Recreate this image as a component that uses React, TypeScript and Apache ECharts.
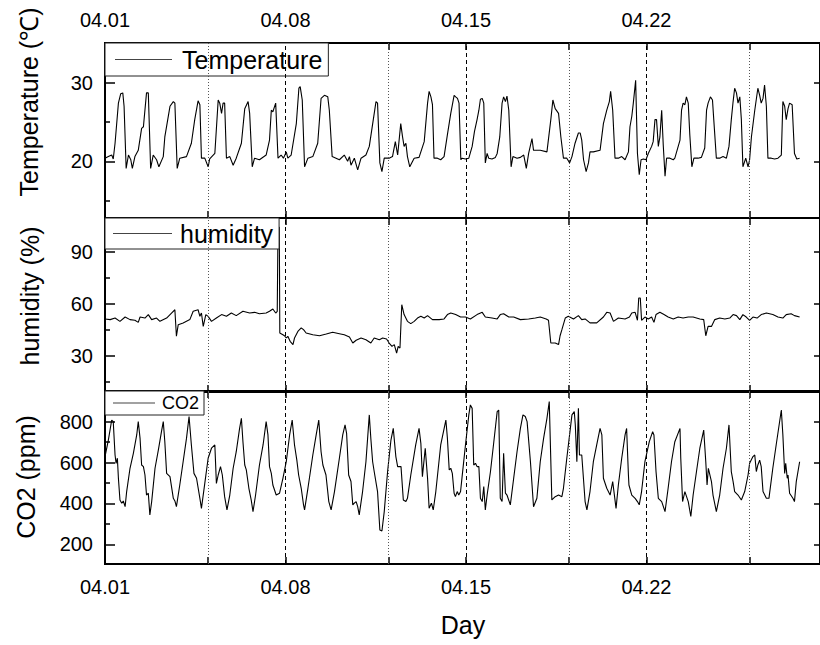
import React, { useEffect, useRef } from 'react';
import * as echarts from 'echarts';

// [day since 04.01, value]
const tempPoints: [number, number][] = [
  [0.0, 20.4], [0.13, 20.6], [0.26, 20.8], [0.32, 20.3], [0.39, 22.3], [0.52, 27.4], [0.61, 28.6], [0.69, 28.7], [0.74, 27.0], [0.82, 19.1],
  [0.91, 20.8], [1.0, 20.2], [1.06, 19.1], [1.16, 20.6], [1.29, 21.4], [1.42, 24.2], [1.49, 24.4], [1.61, 28.7], [1.68, 28.7], [1.77, 19.1],
  [1.87, 20.8], [2.0, 20.2], [2.09, 19.3], [2.26, 20.6], [2.32, 23.1], [2.52, 27.0], [2.65, 27.6], [2.71, 27.4], [2.80, 19.1], [2.90, 20.4],
  [3.16, 20.6], [3.35, 22.3], [3.48, 25.3], [3.61, 27.7], [3.68, 27.2], [3.74, 20.4], [3.87, 20.4], [4.0, 19.3], [4.06, 20.3], [4.26, 21.0],
  [4.39, 27.8], [4.45, 27.4], [4.52, 26.1], [4.58, 27.4], [4.64, 27.4], [4.71, 20.4], [4.84, 20.6], [4.97, 19.5], [5.09, 20.4], [5.29, 22.3],
  [5.42, 26.7], [5.55, 27.6], [5.61, 26.1], [5.71, 19.3], [5.80, 20.4], [5.99, 20.2], [6.25, 20.8], [6.38, 22.7], [6.45, 26.5], [6.51, 26.3],
  [6.62, 27.4], [6.71, 20.4], [6.83, 20.8], [6.92, 20.4], [7.03, 21.2], [7.09, 20.4], [7.22, 20.8], [7.42, 24.8], [7.52, 29.3], [7.57, 29.5],
  [7.65, 27.8], [7.74, 19.3], [7.87, 20.4], [8.06, 20.6], [8.25, 22.3], [8.38, 28.0], [8.51, 28.4], [8.64, 28.2], [8.70, 26.5], [8.81, 20.6],
  [8.96, 20.4], [9.09, 20.2], [9.28, 20.8], [9.41, 20.0], [9.48, 20.6], [9.54, 19.5], [9.67, 20.4], [9.80, 18.9], [9.93, 20.4], [10.12, 20.8],
  [10.25, 21.9], [10.51, 27.6], [10.57, 27.4], [10.66, 19.8], [10.74, 18.7], [10.83, 20.4], [11.02, 20.4], [11.15, 20.6], [11.26, 22.5], [11.35, 20.8],
  [11.47, 24.8], [11.54, 23.1], [11.60, 21.9], [11.67, 22.3], [11.73, 20.6], [11.82, 19.3], [11.99, 20.4], [12.18, 20.5], [12.38, 22.5], [12.51, 27.4],
  [12.57, 28.9], [12.64, 28.2], [12.70, 27.2], [12.76, 20.4], [12.89, 20.4], [13.02, 20.2], [13.15, 20.6], [13.28, 23.4], [13.41, 26.1], [13.54, 28.4],
  [13.60, 28.2], [13.67, 28.0], [13.73, 27.4], [13.80, 20.2], [13.85, 20.4], [13.98, 20.3], [14.11, 20.4], [14.24, 21.9], [14.33, 23.8], [14.43, 25.3],
  [14.50, 26.5], [14.56, 27.9], [14.63, 28.0], [14.69, 27.4], [14.75, 19.8], [14.82, 21.0], [14.88, 20.4], [15.01, 20.3], [15.14, 20.5], [15.21, 21.0],
  [15.31, 23.1], [15.40, 27.4], [15.46, 28.2], [15.53, 27.6], [15.59, 28.3], [15.66, 26.5], [15.75, 19.3], [15.82, 20.6], [15.98, 20.4], [16.11, 20.5],
  [16.24, 20.8], [16.34, 19.1], [16.43, 21.0], [16.56, 22.9], [16.62, 21.4], [16.88, 21.4], [17.14, 21.2], [17.29, 25.3], [17.37, 27.8], [17.46, 26.7],
  [17.59, 26.1], [17.68, 23.1], [17.78, 20.4], [17.91, 20.4], [18.02, 19.8], [18.11, 20.6], [18.23, 22.3], [18.36, 23.6], [18.43, 23.6], [18.49, 22.7],
  [18.56, 20.2], [18.66, 18.7], [18.75, 19.8], [18.81, 21.2], [18.94, 21.2], [19.20, 21.4], [19.33, 24.8], [19.46, 26.5], [19.56, 27.6], [19.61, 28.9],
  [19.69, 26.5], [19.78, 20.4], [19.91, 20.4], [20.04, 20.6], [20.17, 20.2], [20.30, 21.2], [20.36, 24.4], [20.43, 25.7], [20.49, 27.4], [20.58, 30.3],
  [20.65, 21.0], [20.72, 18.3], [20.79, 20.2], [20.88, 20.3], [20.98, 20.2], [21.07, 21.0], [21.20, 21.9], [21.26, 22.5], [21.33, 25.3], [21.39, 25.3],
  [21.46, 21.9], [21.52, 23.1], [21.59, 26.5], [21.65, 22.1], [21.72, 18.1], [21.78, 20.4], [21.91, 20.4], [22.04, 20.2], [22.10, 20.4], [22.30, 22.7],
  [22.36, 26.5], [22.42, 27.4], [22.49, 27.2], [22.55, 28.2], [22.62, 27.4], [22.68, 23.4], [22.76, 19.3], [22.84, 20.4], [23.00, 20.4], [23.13, 20.5],
  [23.26, 21.7], [23.33, 26.5], [23.39, 27.4], [23.48, 28.2], [23.56, 27.8], [23.61, 25.3], [23.71, 20.4], [23.84, 20.4], [23.97, 20.6], [24.10, 20.4],
  [24.20, 21.9], [24.29, 25.3], [24.36, 27.6], [24.42, 29.3], [24.49, 28.7], [24.55, 27.4], [24.62, 28.2], [24.68, 25.3], [24.74, 19.3], [24.85, 20.4],
  [24.94, 19.3], [25.0, 20.2], [25.07, 23.1], [25.20, 26.5], [25.32, 29.3], [25.39, 28.4], [25.45, 27.4], [25.52, 28.0], [25.58, 29.7], [25.65, 27.0],
  [25.71, 20.4], [25.84, 20.4], [25.97, 20.3], [26.10, 20.4], [26.23, 20.8], [26.29, 27.6], [26.36, 27.0], [26.42, 25.3], [26.49, 26.7], [26.55, 27.4],
  [26.65, 27.2], [26.74, 21.0], [26.83, 20.3], [26.94, 20.4],
];

const humidityPoints: [number, number][] = [
  [0.0, 51.2], [0.20, 50.8], [0.39, 51.7], [0.58, 49.8], [0.78, 52.3], [0.97, 50.8], [1.16, 50.4], [1.29, 49.2], [1.36, 52.3], [1.55, 51.7],
  [1.68, 53.7], [1.81, 50.8], [2.0, 51.7], [2.13, 49.8], [2.39, 51.7], [2.58, 54.6], [2.71, 56.5], [2.77, 41.2], [2.84, 47.9], [3.03, 48.9],
  [3.29, 50.8], [3.42, 55.6], [3.61, 56.5], [3.68, 52.7], [3.74, 54.6], [3.81, 46.9], [3.91, 53.7], [4.0, 52.7], [4.13, 49.8], [4.32, 51.7],
  [4.52, 53.7], [4.71, 52.7], [4.90, 54.6], [5.09, 53.1], [5.35, 55.6], [5.61, 54.6], [5.80, 55.0], [5.99, 54.2], [6.25, 54.6], [6.38, 55.6],
  [6.51, 56.9], [6.62, 54.6], [6.68, 55.6], [6.71, 104.0], [6.76, 104.0], [6.78, 43.1], [6.83, 42.7], [6.90, 42.1], [6.96, 41.5], [7.03, 40.2],
  [7.09, 41.2], [7.18, 38.3], [7.29, 36.4], [7.35, 40.2], [7.48, 44.0], [7.61, 46.0], [7.70, 45.0], [7.80, 43.1], [8.06, 42.1], [8.32, 41.5],
  [8.58, 42.5], [8.83, 43.5], [9.09, 42.7], [9.28, 42.1], [9.48, 40.8], [9.61, 37.3], [9.74, 38.9], [9.93, 40.2], [10.12, 39.2], [10.31, 37.3],
  [10.44, 40.2], [10.64, 39.2], [10.77, 40.2], [10.92, 39.6], [11.02, 37.3], [11.13, 35.4], [11.22, 36.4], [11.31, 31.5], [11.37, 35.4], [11.44, 34.4],
  [11.51, 59.4], [11.60, 53.7], [11.73, 49.8], [11.86, 48.5], [11.99, 49.8], [12.12, 51.7], [12.25, 52.7], [12.38, 51.7], [12.51, 53.1], [12.70, 50.8],
  [12.96, 50.8], [13.15, 51.2], [13.28, 53.7], [13.41, 54.6], [13.60, 53.7], [13.79, 52.3], [13.98, 52.3], [14.17, 51.2], [14.43, 53.7], [14.63, 55.0],
  [14.75, 52.3], [15.01, 51.7], [15.21, 51.2], [15.33, 53.7], [15.46, 54.2], [15.66, 52.3], [15.85, 52.3], [16.11, 50.8], [16.43, 51.2], [16.69, 51.7],
  [16.88, 52.3], [17.11, 51.2], [17.20, 50.4], [17.29, 37.3], [17.46, 37.3], [17.59, 36.4], [17.65, 41.5], [17.72, 45.0], [17.85, 51.7], [17.97, 52.7],
  [18.17, 51.2], [18.36, 53.1], [18.49, 50.8], [18.62, 51.2], [18.81, 48.9], [19.07, 48.9], [19.33, 52.3], [19.46, 55.0], [19.59, 54.6], [19.72, 49.8],
  [19.91, 51.7], [20.17, 51.2], [20.34, 52.3], [20.43, 54.6], [20.56, 55.0], [20.65, 50.4], [20.70, 63.3], [20.76, 63.3], [20.81, 50.4], [20.94, 52.3],
  [21.07, 51.2], [21.20, 52.3], [21.29, 49.2], [21.37, 53.7], [21.52, 55.0], [21.68, 53.7], [21.84, 52.3], [22.04, 51.2], [22.23, 52.3], [22.42, 51.7],
  [22.62, 52.3], [22.81, 52.3], [23.07, 51.2], [23.22, 50.8], [23.30, 41.5], [23.39, 46.9], [23.52, 46.9], [23.65, 50.8], [23.84, 51.7], [24.04, 51.2],
  [24.23, 51.7], [24.36, 53.7], [24.49, 53.1], [24.62, 50.8], [24.74, 53.7], [24.87, 52.3], [25.0, 50.4], [25.13, 52.3], [25.29, 51.7], [25.45, 53.7],
  [25.65, 54.6], [25.90, 53.7], [26.10, 52.3], [26.29, 51.7], [26.42, 53.7], [26.61, 54.2], [26.74, 53.1], [26.94, 52.3],
];

const co2Points: [number, number][] = [
  [0.0, 629], [0.13, 710], [0.26, 808], [0.32, 800], [0.39, 637], [0.43, 596], [0.48, 621], [0.52, 523], [0.58, 417], [0.65, 401],
  [0.71, 412], [0.78, 384], [0.84, 458], [0.97, 572], [1.10, 645], [1.23, 735], [1.29, 800], [1.36, 718], [1.42, 588], [1.49, 580],
  [1.55, 539], [1.61, 441], [1.68, 450], [1.74, 344], [1.81, 409], [1.94, 572], [2.07, 662], [2.19, 751], [2.26, 800], [2.32, 702],
  [2.39, 547], [2.52, 531], [2.65, 425], [2.71, 412], [2.77, 384], [2.90, 490], [3.03, 604], [3.16, 718], [3.26, 825], [3.35, 686],
  [3.45, 547], [3.55, 523], [3.68, 425], [3.74, 376], [3.87, 498], [4.0, 621], [4.13, 670], [4.26, 686], [4.32, 498], [4.39, 539],
  [4.48, 580], [4.55, 539], [4.64, 433], [4.73, 368], [4.84, 441], [4.97, 572], [5.09, 653], [5.22, 767], [5.29, 816], [5.35, 702],
  [5.42, 588], [5.48, 564], [5.58, 474], [5.67, 417], [5.74, 360], [5.84, 441], [5.99, 588], [6.13, 686], [6.25, 800], [6.32, 735],
  [6.38, 580], [6.45, 547], [6.51, 490], [6.64, 441], [6.77, 450], [6.90, 523], [7.03, 604], [7.16, 735], [7.26, 808], [7.35, 686],
  [7.44, 612], [7.51, 539], [7.61, 474], [7.70, 393], [7.74, 368], [7.87, 474], [8.06, 637], [8.19, 735], [8.29, 808], [8.38, 653],
  [8.45, 588], [8.57, 539], [8.68, 409], [8.77, 368], [8.90, 458], [9.09, 621], [9.22, 735], [9.31, 784], [9.37, 743], [9.45, 539],
  [9.54, 507], [9.61, 393], [9.67, 401], [9.74, 409], [9.80, 384], [9.86, 344], [9.99, 458], [10.12, 604], [10.25, 833], [10.31, 718],
  [10.38, 604], [10.44, 556], [10.57, 458], [10.66, 270], [10.74, 265], [10.83, 360], [10.96, 556], [11.09, 710], [11.18, 767], [11.28, 629],
  [11.35, 580], [11.48, 580], [11.57, 417], [11.67, 409], [11.73, 425], [11.86, 539], [12.05, 686], [12.18, 767], [12.25, 694], [12.31, 531],
  [12.42, 670], [12.51, 523], [12.57, 376], [12.66, 401], [12.73, 368], [12.83, 458], [13.02, 686], [13.22, 808], [13.28, 718], [13.35, 564],
  [13.41, 572], [13.47, 547], [13.54, 450], [13.59, 433], [13.66, 458], [13.72, 441], [13.79, 458], [13.85, 531], [13.98, 686], [14.11, 833],
  [14.17, 882], [14.24, 865], [14.30, 588], [14.37, 596], [14.43, 580], [14.50, 580], [14.56, 425], [14.63, 409], [14.69, 482], [14.75, 368],
  [14.82, 441], [14.95, 556], [15.08, 702], [15.21, 849], [15.27, 857], [15.33, 425], [15.40, 409], [15.46, 645], [15.53, 450], [15.59, 441],
  [15.72, 393], [15.85, 523], [15.98, 653], [16.11, 767], [16.21, 833], [16.30, 825], [16.37, 800], [16.50, 604], [16.62, 384], [16.75, 425],
  [16.88, 604], [17.01, 718], [17.14, 816], [17.23, 898], [17.33, 417], [17.46, 433], [17.59, 441], [17.72, 433], [17.78, 474], [17.91, 621],
  [18.11, 833], [18.20, 849], [18.24, 784], [18.30, 604], [18.36, 865], [18.40, 637], [18.49, 637], [18.62, 409], [18.69, 368], [18.81, 458],
  [18.94, 604], [19.07, 686], [19.20, 767], [19.27, 735], [19.33, 523], [19.46, 474], [19.59, 441], [19.69, 507], [19.82, 376], [19.91, 490],
  [20.04, 621], [20.17, 735], [20.23, 767], [20.30, 539], [20.32, 490], [20.43, 441], [20.56, 425], [20.65, 409], [20.72, 393], [20.81, 458],
  [20.94, 604], [21.11, 702], [21.24, 751], [21.29, 735], [21.37, 556], [21.46, 425], [21.59, 409], [21.72, 360], [21.84, 474], [21.97, 604],
  [22.10, 702], [22.30, 767], [22.33, 621], [22.40, 409], [22.49, 458], [22.62, 409], [22.72, 336], [22.81, 441], [22.94, 556], [23.07, 670],
  [23.22, 759], [23.30, 604], [23.35, 490], [23.40, 572], [23.52, 507], [23.58, 441], [23.71, 360], [23.84, 441], [23.97, 572], [24.10, 670],
  [24.20, 784], [24.29, 556], [24.36, 507], [24.42, 458], [24.55, 441], [24.68, 417], [24.81, 458], [24.94, 539], [25.0, 596], [25.13, 629],
  [25.20, 637], [25.26, 556], [25.32, 588], [25.39, 612], [25.45, 580], [25.52, 458], [25.65, 425], [25.75, 425], [25.90, 572], [26.03, 686],
  [26.23, 857], [26.29, 735], [26.36, 547], [26.40, 596], [26.46, 523], [26.49, 539], [26.55, 450], [26.68, 425], [26.74, 409], [26.81, 507],
  [26.94, 604],
];

const xLabelDays = [0, 7, 14, 21];
const xTickDays = [0, 4, 7, 11, 14, 18, 21, 25];
const dottedDays = [4, 11, 18, 25];
const dashedDays = [7, 14, 21];

const tempMajor = [20, 30];
const tempMinor = [15, 25];
const humMajor = [30, 60, 90];
const humMinor = [15, 45, 75, 105];
const co2Major = [200, 400, 600, 800];
const co2Minor = [300, 500, 700, 900];

const FONT = '"Liberation Sans", Arial, Helvetica, sans-serif';
const X_MIN = 0;
const X_MAX = 27.73;

const panels = [
  {
    name: 'Temperature', title: 'Temperature (℃)', data: tempPoints, min: 12.79, max: 35.05,
    major: tempMajor, minor: tempMinor, top: 43, height: 175, titleX: 29, titleY: 102,
    legend: { fontSize: 25, itemWidth: 57, padding: [4, 6, 4, 10], gap: 10 },
  },
  {
    name: 'humidity', title: 'humidity (%)', data: humidityPoints, min: 9.06, max: 109.4,
    major: humMajor, minor: humMinor, top: 218, height: 174, titleX: 30, titleY: 296,
    legend: { fontSize: 25, itemWidth: 59, padding: [3, 6, 3, 8], gap: 8 },
  },
  {
    name: 'CO2', title: 'CO2 (ppm)', data: co2Points, min: 103.6, max: 950,
    major: co2Major, minor: co2Minor, top: 391, height: 173, titleX: 26, titleY: 477,
    legend: { fontSize: 18, itemWidth: 42, padding: [3, 5, 3, 8], gap: 7 },
  },
];

const dayLabel = (v: number) => {
  const d = Math.round(v) + 1;
  return '04.' + (d < 10 ? '0' : '') + d;
};

export default function App() {
  const ref = useRef<HTMLDivElement>(null);
  useEffect(() => {
    document.body.style.margin = '0';
    if (!ref.current) return;
    const chart = echarts.init(ref.current, null, { renderer: 'svg' });

    const grid: any[] = [];
    const xAxis: any[] = [];
    const yAxis: any[] = [];
    const series: any[] = [];
    const legend: any[] = [];
    const graphic: any[] = [];

    panels.forEach((p, i) => {
      grid.push({
        left: 105, top: p.top, width: 717, height: p.height,
        show: true, borderColor: '#000', borderWidth: 2, backgroundColor: 'transparent',
      });
      ['bottom', 'top'].forEach((pos) => {
        const showLabel = (pos === 'bottom' && i === 2) || (pos === 'top' && i === 0);
        xAxis.push({
          type: 'value', gridIndex: i, min: X_MIN, max: X_MAX, position: pos,
          axisLine: { show: false },
          axisTick: { show: true, inside: true, length: 7, customValues: xTickDays, lineStyle: { color: '#000', width: 1.5 } },
          axisLabel: {
            show: showLabel, customValues: xLabelDays, formatter: dayLabel, margin: 13,
            fontSize: 20, color: '#000', fontFamily: FONT,
          },
          splitLine: { show: false },
        });
      });
      yAxis.push({
        type: 'value', gridIndex: i, min: p.min, max: p.max, position: 'left',
        axisLine: { show: false },
        axisTick: { show: true, inside: true, length: 10, customValues: p.major, lineStyle: { color: '#000', width: 1.5 } },
        axisLabel: { show: true, customValues: p.major, margin: 12, fontSize: 20, color: '#000', fontFamily: FONT },
        splitLine: { show: false },
      });
      yAxis.push({
        type: 'value', gridIndex: i, min: p.min, max: p.max, position: 'left',
        axisLine: { show: false },
        axisTick: { show: true, inside: true, length: 5, customValues: p.minor, lineStyle: { color: '#000', width: 1.5 } },
        axisLabel: { show: false },
        splitLine: { show: false },
      });
      yAxis.push({
        type: 'value', gridIndex: i, min: p.min, max: p.max, position: 'right',
        axisLine: { show: false },
        axisTick: { show: true, inside: true, length: 6, customValues: p.major, lineStyle: { color: '#000', width: 1.5 } },
        axisLabel: { show: false },
        splitLine: { show: false },
      });
      series.push({
        name: p.name, type: 'line', xAxisIndex: 2 * i, yAxisIndex: 3 * i,
        data: p.data, symbol: 'none', showSymbol: false,
        lineStyle: { color: '#000', width: 1.1 }, itemStyle: { color: '#000' },
        markLine: {
          silent: true, symbol: 'none', label: { show: false },
          data: [
            ...dottedDays.map((d) => ({ xAxis: d, lineStyle: { type: [1, 2], color: '#555', width: 1 } })),
            ...dashedDays.map((d) => ({ xAxis: d, lineStyle: { type: [4, 3], color: '#000', width: 1 } })),
          ],
        },
      });
      legend.push({
        data: [{ name: p.name, icon: 'rect', itemStyle: { color: '#444' } }],
        left: 105, top: p.top, orient: 'horizontal',
        itemWidth: p.legend.itemWidth, itemHeight: 1, itemGap: 0,
        padding: p.legend.padding, borderColor: '#222', borderWidth: 1, borderRadius: 0,
        backgroundColor: '#fff', selectedMode: false,
        textStyle: { fontSize: p.legend.fontSize, color: '#000', fontFamily: FONT, padding: [0, 0, 0, p.legend.gap - 5] },
      });
      graphic.push({
        type: 'text', x: p.titleX, y: p.titleY, rotation: Math.PI / 2,
        style: {
          text: p.title, fontSize: 25, fontFamily: FONT, fill: '#000',
          textAlign: 'center', textVerticalAlign: 'middle', align: 'center', verticalAlign: 'middle',
        },
      });
    });

    graphic.push({
      type: 'text', x: 463, y: 625,
      style: {
        text: 'Day', fontSize: 25, fontFamily: FONT, fill: '#000',
        textAlign: 'center', textVerticalAlign: 'middle', align: 'center', verticalAlign: 'middle',
      },
    });

    chart.setOption({
      animation: false,
      backgroundColor: '#fff',
      grid, xAxis, yAxis, series, legend, graphic,
    });
    return () => chart.dispose();
  }, []);
  return <div ref={ref} style={{ width: 820, height: 645 }} />;
}
